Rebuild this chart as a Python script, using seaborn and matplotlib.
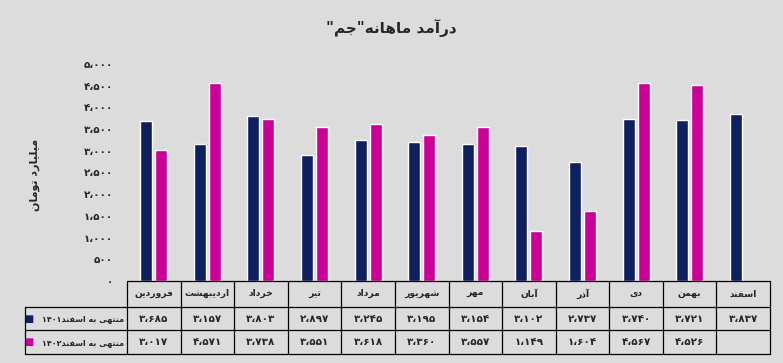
import re
import pandas as pd
import matplotlib
matplotlib.use('Agg')
import matplotlib.pyplot as plt
import matplotlib.transforms as mtransforms
import seaborn as sns

# data (billion toman)
months = ['فروردین', 'اردیبهشت', 'خرداد', 'تیر', 'مرداد', 'شهریور',
          'مهر', 'آبان', 'آذر', 'دی', 'بهمن', 'اسفند']
series_names = ['منتهی به اسفند۱۴۰۱', 'منتهی به اسفند۱۴۰۲']
rev_1401 = [3685, 3157, 3803, 2897, 3245, 3195, 3154, 3102, 2737, 3740, 3721, 3837]
rev_1402 = [3017, 4571, 3738, 3551, 3618, 3360, 3557, 1149, 1604, 4567, 4526, None]
yticks = [0, 500, 1000, 1500, 2000, 2500, 3000, 3500, 4000, 4500, 5000]
title = 'درآمد ماهانه"جم"'
ylabel = 'میلیارد تومان'

navy = '#0F2060'
magenta = '#CC0099'
bg = '#DCDCDC'

# matplotlib does no arabic shaping, so pick presentation forms by hand
FORMS = {
    'ب': (0xFE8F, 0xFE90, 0xFE91, 0xFE92),
    'ت': (0xFE95, 0xFE96, 0xFE97, 0xFE98),
    'ج': (0xFE9D, 0xFE9E, 0xFE9F, 0xFEA0),
    'خ': (0xFEA5, 0xFEA6, 0xFEA7, 0xFEA8),
    'س': (0xFEB1, 0xFEB2, 0xFEB3, 0xFEB4),
    'ش': (0xFEB5, 0xFEB6, 0xFEB7, 0xFEB8),
    'ف': (0xFED1, 0xFED2, 0xFED3, 0xFED4),
    'ل': (0xFEDD, 0xFEDE, 0xFEDF, 0xFEE0),
    'م': (0xFEE1, 0xFEE2, 0xFEE3, 0xFEE4),
    'ن': (0xFEE5, 0xFEE6, 0xFEE7, 0xFEE8),
    'ه': (0xFEE9, 0xFEEA, 0xFEEB, 0xFEEC),
    'ی': (0xFBFC, 0xFBFD, 0xFBFE, 0xFBFF),
    'ا': (0xFE8D, 0xFE8E),
    'آ': (0xFE81, 0xFE82),
    'د': (0xFEA9, 0xFEAA),
    'ذ': (0xFEAB, 0xFEAC),
    'ر': (0xFEAD, 0xFEAE),
    'ز': (0xFEAF, 0xFEB0),
    'و': (0xFEED, 0xFEEE),
}


def fa(text):
    out = []
    for i, ch in enumerate(text):
        f = FORMS.get(ch)
        if f is None:
            out.append(ch)
            continue
        prev = text[i - 1] if i > 0 else ''
        nxt = text[i + 1] if i < len(text) - 1 else ''
        jp = prev in FORMS and len(FORMS[prev]) == 4
        jn = len(f) == 4 and nxt in FORMS
        if jp and jn:
            c = f[3]
        elif jp:
            c = f[1]
        elif jn:
            c = f[2]
        else:
            c = f[0]
        out.append(chr(c))
    s = ''.join(out)[::-1]
    # digit runs stay left to right
    return re.sub(r'[۰-۹0-9،]+', lambda m: m.group(0)[::-1], s)


def fa_num(n):
    s = f'{int(n):,}'.replace(',', '،')
    return s.translate(str.maketrans('0123456789', '۰۱۲۳۴۵۶۷۸۹'))


df = pd.DataFrame({
    'month': months * 2,
    'series': [series_names[0]] * 12 + [series_names[1]] * 12,
    'value': rev_1401 + rev_1402,
})

sns.set_theme(style='white')
plt.rcParams['font.family'] = ['DejaVu Sans']
plt.rcParams['font.weight'] = 'bold'

fig = plt.figure(figsize=(7.83, 3.63), dpi=100, facecolor=bg)
ax = fig.add_axes([127 / 783, 82 / 363, 643 / 783, 217 / 363])
ax.set_facecolor(bg)

sns.barplot(data=df, x='month', y='value', hue='series', order=months,
            hue_order=series_names, palette=[navy, magenta], saturation=1,
            width=0.56, gap=0.2, errorbar=None, legend=False, ax=ax)

ax.set_xlim(-0.5, 11.5)
ax.set_ylim(0, 5000)
ax.set_yticks(yticks)
ax.set_yticklabels([fa_num(v) for v in yticks], fontsize=7.5, fontweight='bold')
ax.tick_params(axis='y', length=0, pad=10)
ax.set_xticks([])
ax.set_xlabel('')
ax.set_ylabel('')
for sp in ax.spines.values():
    sp.set_visible(False)

fig.text(0.5, 0.923, fa(title), ha='center', va='center',
         fontsize=11, fontweight='bold')
fig.text(35 / 783, 0.518, fa(ylabel), rotation=90, ha='center', va='center',
         fontsize=8, fontweight='bold')

# data table under the bars
tr = mtransforms.blended_transform_factory(ax.transData, ax.transAxes)
rows_y = [0.0, -0.118, -0.228, -0.338]
left = -2.41
line_kw = dict(color='black', lw=0.9, transform=tr, clip_on=False)
ax.plot([-0.5, 11.5], [rows_y[0]] * 2, **line_kw)
for y in rows_y[1:]:
    ax.plot([left, 11.5], [y, y], **line_kw)
ax.plot([left, left], [rows_y[1], rows_y[3]], **line_kw)
for i in range(13):
    ax.plot([i - 0.5, i - 0.5], [rows_y[0], rows_y[3]], **line_kw)

hdr_y = (rows_y[0] + rows_y[1]) / 2
r1_y = (rows_y[1] + rows_y[2]) / 2
r2_y = (rows_y[2] + rows_y[3]) / 2
for i, m in enumerate(months):
    ax.text(i, hdr_y, fa(m), transform=tr, ha='center', va='center',
            fontsize=6.6, fontweight='bold')
    for vals, yy in ((rev_1401, r1_y), (rev_1402, r2_y)):
        if vals[i] is not None:
            ax.text(i, yy, fa_num(vals[i]), transform=tr, ha='center',
                    va='center', fontsize=7.5, fontweight='bold')

for name, col, yy in ((series_names[0], navy, r1_y), (series_names[1], magenta, r2_y)):
    ax.text(-0.56, yy, fa(name), transform=tr, ha='right', va='center',
            fontsize=5.8, fontweight='bold')
    ax.text(-2.34, yy, '■', transform=tr, ha='center', va='center',
            fontsize=7, color=col)

fig.savefig('out.png', dpi=100, facecolor=bg)
